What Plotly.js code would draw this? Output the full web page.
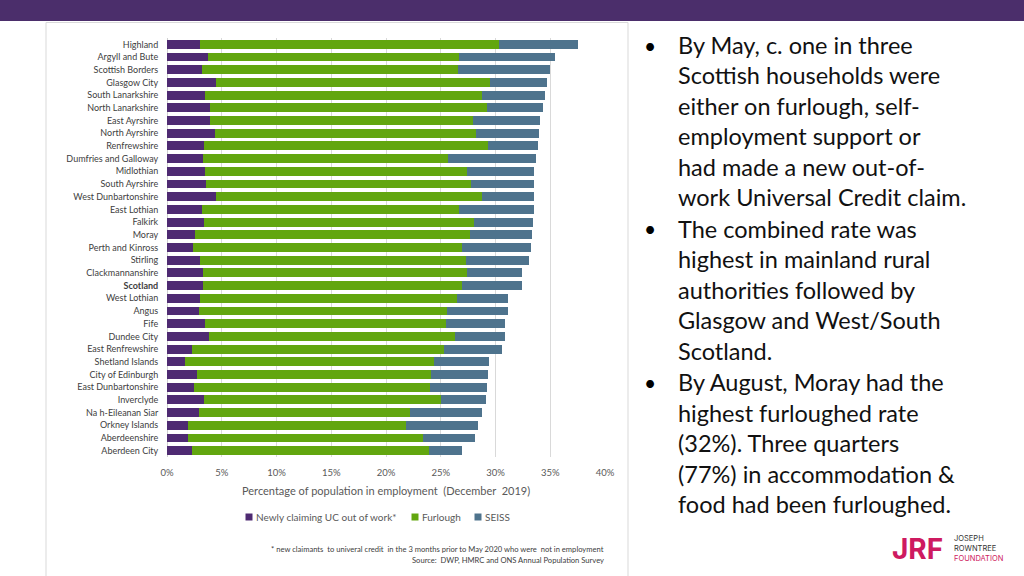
<!DOCTYPE html>
<html>
<head>
<meta charset="utf-8">
<script src="https://cdn.plot.ly/plotly-3.0.1.min.js"></script>
<style>
html,body{margin:0;padding:0;background:#fff;}
#chart{width:1024px;height:576px;}
</style>
</head>
<body>
<div id="chart"></div>
<script>
// ---- data (top to bottom) ----
const areas = ["Highland","Argyll and Bute","Scottish Borders","Glasgow City","South Lanarkshire","North Lanarkshire","East Ayrshire","North Ayrshire","Renfrewshire","Dumfries and Galloway","Midlothian","South Ayrshire","West Dunbartonshire","East Lothian","Falkirk","Moray","Perth and Kinross","Stirling","Clackmannanshire","Scotland","West Lothian","Angus","Fife","Dundee City","East Renfrewshire","Shetland Islands","City of Edinburgh","East Dunbartonshire","Inverclyde","Na h-Eileanan Siar","Orkney Islands","Aberdeenshire","Aberdeen City"];
const ucNew    = [3.0,3.7,3.2,4.5,3.5,3.9,3.9,4.4,3.4,3.3,3.5,3.6,4.5,3.2,3.4,2.6,2.4,3.0,3.3,3.3,3.0,2.9,3.5,3.8,2.3,1.6,2.7,2.5,3.4,2.9,1.9,1.9,2.3];
const furlough = [27.3,23.0,23.4,25.0,25.3,25.3,24.0,23.8,25.9,22.4,23.9,24.2,24.3,23.5,24.6,25.1,24.5,24.3,24.1,23.6,23.5,22.7,22.0,22.5,23.0,22.8,21.4,21.5,21.6,19.3,19.9,21.5,21.6];
const seiss    = [7.2,8.7,8.4,5.2,5.7,5.1,6.2,5.8,4.6,8.0,6.1,5.7,4.7,6.8,5.4,5.6,6.3,5.8,5.0,5.5,4.6,5.5,5.4,4.6,5.3,5.0,5.2,5.2,4.1,6.6,6.6,4.7,3.0];
const seriesNames = ["Newly claiming UC out of work*","Furlough","SEISS"];
const tickVals = [0,5,10,15,20,25,30,35,40];
const tickLabels = ["0%","5%","10%","15%","20%","25%","30%","35%","40%"];
const bullets = [
  ["By May, c. one in three","Scottish households were","either on furlough, self-","employment support or","had made a new out-of-","work Universal Credit claim."],
  ["The combined rate was","highest in mainland rural","authorities followed by","Glasgow and West/South","Scotland."],
  ["By August, Moray had the","highest furloughed rate","(32%). Three quarters","(77%) in accommodation &","food had been furloughed."]
];
const xTitle = "Percentage of population in employment  (December  2019)";
const footnotes = ["* new claimants  to univeral credit  in the 3 months prior to May 2020 who were  not in employment","Source:  DWP, HMRC and ONS Annual Population Survey"];

// ---- layout helpers (pixel -> paper) ----
const W=1024,H=576, L=167, R=605, T=38, B=457;
const px = x => (x-L)/(R-L);
const py = y => (B-y)/(B-T);

const colors = ["#4E2A72","#62A60F","#4E738D"];
const vals = [ucNew, furlough, seiss];
const ticktext = areas.map(a => a==="Scotland" ? "<b>Scotland</b>" : a);

const traces = vals.map((v,i)=>({
  type:"bar", orientation:"h", name:seriesNames[i],
  y:areas, x:v, marker:{color:colors[i]}, hoverinfo:"x+y", showlegend:false
}));

const ann = [];
const shapes = [
  {type:"rect",xref:"paper",yref:"paper",x0:px(0),x1:px(W),y0:py(0),y1:py(21),fillcolor:"#4B2E6B",line:{width:0},layer:"below"},
  {type:"line",xref:"paper",yref:"paper",x0:px(46),x1:px(628),y0:py(22.5),y1:py(22.5),line:{color:"#d9d9d9",width:1}},
  {type:"line",xref:"paper",yref:"paper",x0:px(46),x1:px(46),y0:py(22.5),y1:py(576),line:{color:"#d9d9d9",width:1}},
  {type:"line",xref:"paper",yref:"paper",x0:px(628),x1:px(628),y0:py(22.5),y1:py(576),line:{color:"#d9d9d9",width:1}}
];
// x-axis title
ann.push({xref:"paper",yref:"paper",x:px(386),y:py(490),text:xTitle,showarrow:false,xanchor:"center",yanchor:"middle",font:{family:"Lato",size:11,color:"#595959"}});
footnotes.forEach((f,i)=>ann.push({xref:"paper",yref:"paper",x:px(606),y:py(549+i*10.5),text:f,showarrow:false,xanchor:"right",yanchor:"middle",font:{family:"Lato",size:7.6,color:"#404040"}}));
// manual legend (square + label)
const legX = [249,415,478];
seriesNames.forEach((n,i)=>{
  shapes.push({type:"rect",xref:"paper",yref:"paper",x0:px(legX[i]-3.5),x1:px(legX[i]+3.5),y0:py(520.5),y1:py(513.5),fillcolor:colors[i],line:{width:0}});
  ann.push({xref:"paper",yref:"paper",x:px(legX[i]+5),y:py(517),text:n,showarrow:false,xanchor:"left",yanchor:"middle",font:{family:"Lato",size:10,color:"#595959"}});
});
// bullets text
let lineY = 45;
bullets.forEach((blk,bi)=>{
  blk.forEach((line,li)=>{
    if(li===0) ann.push({xref:"paper",yref:"paper",x:px(650),y:py(lineY),text:"•",showarrow:false,xanchor:"center",yanchor:"middle",font:{family:"Lato",size:21,color:"#000"}});
    ann.push({xref:"paper",yref:"paper",x:px(676),y:py(lineY),text:line,showarrow:false,xanchor:"left",yanchor:"middle",font:{family:"Lato",size:23.5,color:"#111"}});
    lineY += 30.45;
  });
  lineY += 1.2;
});
// JRF logo text
ann.push({xref:"paper",yref:"paper",x:px(890),y:py(549),text:"<b>JRF</b>",showarrow:false,xanchor:"left",yanchor:"middle",font:{family:"Inter",size:28,color:"#CE1A60"}});
ann.push({xref:"paper",yref:"paper",x:px(952),y:py(538),text:"JOSEPH",showarrow:false,xanchor:"left",yanchor:"middle",font:{family:"Inter",size:7.5,color:"#333"}});
ann.push({xref:"paper",yref:"paper",x:px(952),y:py(548),text:"ROWNTREE",showarrow:false,xanchor:"left",yanchor:"middle",font:{family:"Inter",size:7.5,color:"#333"}});
ann.push({xref:"paper",yref:"paper",x:px(952),y:py(558),text:"FOUNDATION",showarrow:false,xanchor:"left",yanchor:"middle",font:{family:"Inter",size:7.5,color:"#CE1A60"}});

const layout = {
  width:W,height:H,
  margin:{l:L,r:W-R,t:T,b:H-B,pad:0},
  paper_bgcolor:"#fff",plot_bgcolor:"#fff",
  barmode:"stack", bargap:0.3,
  font:{family:"Lato",color:"#404040"},
  xaxis:{range:[0,40],tickvals:tickVals,ticktext:tickLabels,showgrid:true,gridcolor:"#d9d9d9",gridwidth:1,
         zeroline:true,zerolinecolor:"#d0d0d0",showline:false,ticks:"outside",ticklen:7,tickcolor:"rgba(0,0,0,0)",
         tickfont:{family:"Lato",size:9.5,color:"#595959"},fixedrange:true},
  yaxis:{type:"category",autorange:"reversed",tickvals:areas,ticktext:ticktext,ticks:"outside",ticklen:6,tickcolor:"rgba(0,0,0,0)",
         tickfont:{family:"Lato",size:9,color:"#404040"},showgrid:false,zeroline:false,fixedrange:true},
  showlegend:false,
  annotations:ann, shapes:shapes
};
Plotly.newPlot("chart",traces,layout,{displayModeBar:false,staticPlot:true});
</script>
</body>
</html>
